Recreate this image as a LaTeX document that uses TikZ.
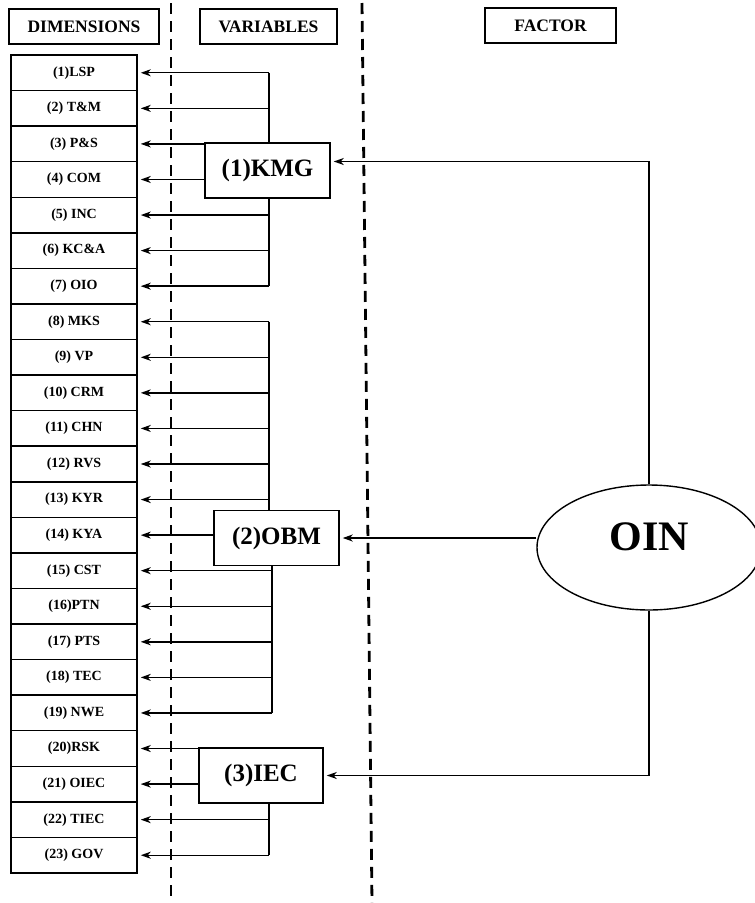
\documentclass[tikz,border=0pt]{standalone}
\usepackage{fontspec}
\setmainfont{Liberation Serif}
\usetikzlibrary{arrows.meta,shapes.geometric}
\begin{document}
\begin{tikzpicture}[x=1pt,y=-1pt,
  dimbox/.style={draw,line width=1.5pt,minimum width=126pt,minimum height=35.56pt,inner sep=0pt,font=\fontsize{14}{16}\selectfont\bfseries},
  headbox/.style={draw,line width=1.5pt,minimum height=35pt,inner sep=0pt,font=\fontsize{17.5}{20}\selectfont\bfseries},
  varbox/.style={draw,line width=1.5pt,fill=white,minimum width=125pt,minimum height=55pt,inner sep=0pt,font=\fontsize{25}{28}\selectfont\bfseries},
  conn/.style={line width=1.4pt},
  arr/.style={line width=1.4pt,-{Stealth[length=10pt,width=7pt,inset=3pt]},shorten >=3pt},
  dashline/.style={line width=2.8pt,dash pattern=on 11pt off 7pt}
]
\useasboundingbox (0,0) rectangle (755,903);
% column separators
\draw[dashline] (171,3) -- (171,898);
\draw[dashline] (362,3) -- (372,903);
% headers
\node[headbox,minimum width=150pt] (hdim) at (84,26.5) {DIMENSIONS};
\node[headbox,minimum width=137pt] (hvar) at (268.5,26.5) {VARIABLES};
\node[headbox,minimum width=131pt] (hfac) at (550.5,25.5) {FACTOR};
% dimensions
\foreach \i/\t in {1/{(1)LSP},2/{(2) T\&M},3/{(3) P\&S},4/{(4) COM},5/{(5) INC},6/{(6) KC\&A},7/{(7) OIO},8/{(8) MKS},9/{(9) VP},10/{(10) CRM},11/{(11) CHN},12/{(12) RVS},13/{(13) KYR},14/{(14) KYA},15/{(15) CST},16/{(16)PTN},17/{(17) PTS},18/{(18) TEC},19/{(19) NWE},20/{(20)RSK},21/{(21) OIEC},22/{(22) TIEC},23/{(23) GOV}}
  \node[dimbox] (d\i) at (74,{55+(\i-0.5)*35.565}) {\t};
% variables
\node[varbox] (kmg) at (267.5,170.5) {(1)KMG};
\node[varbox] (obm) at (276.5,538) {(2)OBM};
\node[varbox,minimum width=124pt] (iec) at (261,775.5) {(3)IEC};
% factor
\node[draw,ellipse,line width=1.4pt,minimum width=224pt,minimum height=125pt,inner sep=0pt,text depth=22pt,font=\fontsize{42}{46}\selectfont\bfseries] (oin) at (649,547.5) {OIN};
% buses
\coordinate (kb) at (269,0);
\coordinate (ob) at (269,0);
\coordinate (ob2) at (272,0);
\coordinate (ib) at (269,0);
% KMG
\draw[conn] (kb |- d1.east) -- (kb |- kmg.north);
\draw[conn] (kb |- kmg.south) -- (kb |- d7.east);
\foreach \i in {1,2,5,6,7} \draw[arr] (kb |- d\i.east) -- (d\i.east);
\foreach \i in {3,4} \draw[arr] (kmg.west |- d\i.east) -- (d\i.east);
% OBM
\draw[conn] (ob |- d8.east) -- (ob |- obm.north);
\draw[conn] (ob2 |- obm.south) -- (ob2 |- d19.east);
\foreach \i in {8,...,13} \draw[arr] (ob |- d\i.east) -- (d\i.east);
\draw[arr] (obm.west |- d14.east) -- (d14.east);
\foreach \i in {15,...,19} \draw[arr] (ob2 |- d\i.east) -- (d\i.east);
% IEC
\foreach \i in {20,21} \draw[arr] (iec.west |- d\i.east) -- (d\i.east);
\draw[conn] (ib |- iec.south) -- (ib |- d23.east);
\foreach \i in {22,23} \draw[arr] (ib |- d\i.east) -- (d\i.east);
% OIN connections
\coordinate (kin) at ([yshift=9pt]kmg.east);
\draw[arr] (oin.north) -- (oin.north |- kin) -- (kin);
\draw[arr] (oin.west |- obm.east) -- (obm.east);
\draw[arr] (oin.south) -- (oin.south |- iec.east) -- (iec.east);
\end{tikzpicture}
\end{document}
